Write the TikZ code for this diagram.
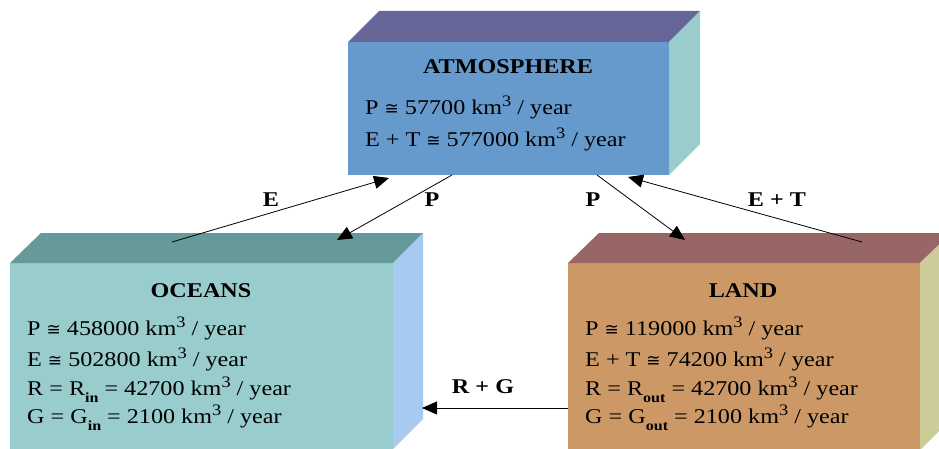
\documentclass[tikz,border=0pt]{standalone}
\usepackage{fontspec}
\setmainfont{Liberation Serif}[FakeStretch=1.15]
\newfontfamily\symf{DejaVu Sans}
\usetikzlibrary{arrows.meta}
\newcommand{\cg}{{\symf\fontsize{17}{17}\selectfont ≅}}
\newcommand{\kmc}{km\raisebox{8pt}{\fontsize{16}{16}\selectfont 3}}
\newcommand{\subx}[1]{\raisebox{-7pt}{\fontsize{14}{14}\selectfont\bfseries #1}}
\definecolor{atmF}{HTML}{6699CC}
\definecolor{atmT}{HTML}{666699}
\definecolor{atmR}{HTML}{99CCCC}
\definecolor{ocnF}{HTML}{99CCCC}
\definecolor{ocnT}{HTML}{669999}
\definecolor{ocnR}{HTML}{A6CAF0}
\definecolor{lndF}{HTML}{CC9966}
\definecolor{lndT}{HTML}{996666}
\definecolor{lndR}{HTML}{CCCC99}
\begin{document}
\begin{tikzpicture}[x=1pt,y=-1pt,
  front/.style={draw=none, inner sep=0pt, outer sep=0pt, anchor=north west},
  title/.style={font=\fontsize{21}{25}\selectfont\bfseries, anchor=base, inner sep=0pt},
  txt/.style={font=\fontsize{21}{25}\selectfont, anchor=base west, inner sep=0pt},
  lbl/.style={font=\fontsize{21}{25}\selectfont\bfseries, anchor=base, inner sep=0pt},
  flow/.style={draw=black, line width=0.8pt, -{Triangle[length=15pt,width=13pt]}}]
\useasboundingbox (0,0) rectangle (939,449);
\clip (0,0) rectangle (939,449);
% ATMOSPHERE box
\node[front, fill=atmF, minimum width=321pt, minimum height=133pt] (atm) at (348,42) {};
\fill[atmT] (348,42) -- (379,11) -- (700,11) -- (669,42) -- cycle;
\fill[atmR] (669,42) -- (700,11) -- (700,144) -- (669,175) -- cycle;
% OCEANS box
\node[front, fill=ocnF, minimum width=383pt, minimum height=190pt] (ocn) at (10,263) {};
\fill[ocnT] (10,263) -- (41,233) -- (423,233) -- (393,263) -- cycle;
\fill[ocnR] (393,263) -- (423,233) -- (423,419) -- (393,449) -- cycle;
% LAND box
\node[front, fill=lndF, minimum width=352pt, minimum height=190pt] (lnd) at (568,263) {};
\fill[lndT] (568,263) -- (599,233) -- (951,233) -- (920,263) -- cycle;
\fill[lndR] (920,263) -- (951,233) -- (951,419) -- (920,450) -- cycle;
% texts
\node[title] (atmt) at (508,74) {ATMOSPHERE};
\node[txt] (atm1) at (365,115) {P \cg{} 57700 \kmc{} / year};
\node[txt] (atm2) at (365,147) {E + T \cg{} 577000 \kmc{} / year};
\node[title] (ocnt) at (201,297) {OCEANS};
\node[txt] (ocn1) at (27,335) {P \cg{} 458000 \kmc{} / year};
\node[txt] (ocn2) at (27,366) {E \cg{} 502800 \kmc{} / year};
\node[txt] (ocn3) at (27,395) {R = R\subx{in} = 42700 \kmc{} / year};
\node[txt] (ocn4) at (27,423) {G = G\subx{in} = 2100 \kmc{} / year};
\node[title] (lndt) at (743,297) {LAND};
\node[txt] (lnd1) at (585,335) {P \cg{} 119000 \kmc{} / year};
\node[txt] (lnd2) at (585,366) {E + T \cg{} 74200 \kmc{} / year};
\node[txt] (lnd3) at (585,395) {R = R\subx{out} = 42700 \kmc{} / year};
\node[txt] (lnd4) at (585,423) {G = G\subx{out} = 2100 \kmc{} / year};
% connector end points
\coordinate (eA) at (172,242);
\coordinate (eB) at (389,178);
\coordinate (pA) at (452,175);
\coordinate (pB) at (337,240);
\coordinate (qA) at (597,175);
\coordinate (qB) at (685,240);
\coordinate (tA) at (862,242);
\coordinate (tB) at (628,177);
\coordinate (rA) at (568,408);
\coordinate (rB) at (422,408);
\draw[flow] (eA) -- (eB);
\draw[flow] (pA) -- (pB);
\draw[flow] (qA) -- (qB);
\draw[flow] (tA) -- (tB);
\draw[flow] (rA) -- (rB);
\node[lbl] (lE) at (271,207) {E};
\node[lbl] (lP1) at (432,207) {P};
\node[lbl] (lP2) at (593,207) {P};
\node[lbl] (lET) at (777,207) {E + T};
\node[lbl] (lRG) at (483,393) {R + G};
\end{tikzpicture}
\end{document}
